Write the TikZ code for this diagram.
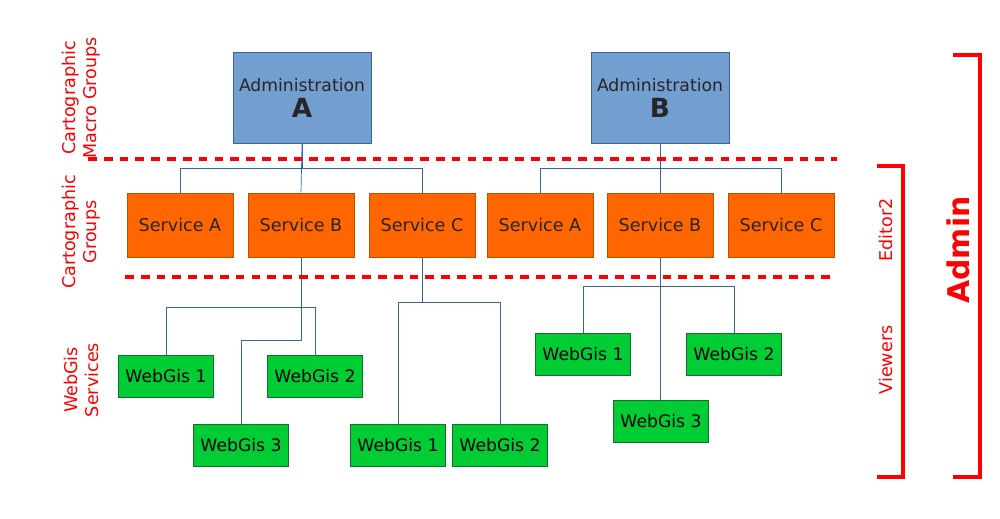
\documentclass[tikz,border=0pt]{standalone}
\usepackage{fontspec}
\setmainfont{DejaVu Sans}
\usetikzlibrary{positioning}
\definecolor{admfill}{HTML}{729FCF}
\definecolor{admdraw}{HTML}{3465A4}
\definecolor{srvfill}{HTML}{FF6600}
\definecolor{srvdraw}{HTML}{B85000}
\definecolor{wgfill}{HTML}{00CC33}
\definecolor{wgdraw}{HTML}{1A6B2E}
\definecolor{linkc}{HTML}{3465A4}
\tikzset{
    admin/.style={draw=admdraw,fill=admfill,minimum width=2.76cm,minimum height=1.82cm,
        align=center,font=\fontsize{9.8}{13}\selectfont,text=black!85},
    service/.style={draw=srvdraw,fill=srvfill,minimum width=2.12cm,minimum height=1.28cm,
        font=\fontsize{10}{12}\selectfont,text=black!85},
    webgis/.style={draw=wgdraw,fill=wgfill,minimum width=1.9cm,minimum height=0.84cm,
        font=\fontsize{9.8}{12}\selectfont},
    link/.style={draw=linkc,thin},
    level/.style={red,dashed,line width=1.8pt,dash pattern=on 5pt off 4pt},
    side/.style={red,rotate=90,align=center,font=\fontsize{10}{12}\selectfont},
    bracket/.style={red,line width=2.2pt},
}
\begin{document}
\begin{tikzpicture}[x=0.02cm,y=-0.02cm]
    \useasboundingbox (0,0) rectangle (1000,518);

    % macro groups
    \node[admin] (admA) at (302,98) {Administration\\[2pt]{\fontsize{15}{17}\selectfont\bfseries A}};
    \node[admin] (admB) at (660,98) {Administration\\[2pt]{\fontsize{15}{17}\selectfont\bfseries B}};

    % groups
    \node[service] (sAa) at (180,225) {Service A};
    \node[service] (sAb) at (301,225) {Service B};
    \node[service] (sAc) at (422,225) {Service C};
    \node[service] (sBa) at (540,225) {Service A};
    \node[service] (sBb) at (660,225) {Service B};
    \node[service] (sBc) at (781,225) {Service C};

    % webgis services
    \node[webgis] (wg1) at (166,376) {WebGis 1};
    \node[webgis] (wg2) at (315,376) {WebGis 2};
    \node[webgis] (wg3) at (241,445) {WebGis 3};
    \node[webgis] (wgC1) at (398,445) {WebGis 1};
    \node[webgis] (wgC2) at (500,445) {WebGis 2};
    \node[webgis] (wgB1) at (583,354) {WebGis 1};
    \node[webgis] (wgB2) at (734,354) {WebGis 2};
    \node[webgis] (wgB3) at (661,421) {WebGis 3};

    % links
    \draw[link] (admA.south) |- ++(0,25) -| (sAa.north);
    \draw[link] (admA.south) -- (sAb.north);
    \draw[link] (admA.south) |- ++(0,25) -| (sAc.north);
    \draw[link] (admB.south) |- ++(0,25) -| (sBa.north);
    \draw[link] (admB.south) -- (sBb.north);
    \draw[link] (admB.south) |- ++(0,25) -| (sBc.north);

    \draw[link] (sAb.south) |- ++(0,50) -| (wg1.north);
    \draw[link] (sAb.south) |- ++(0,50) -| (wg2.north);
    \draw[link] (sAb.south) |- ++(0,83) -| (wg3.north);
    \draw[link] (sAc.south) |- ++(0,45) -| (wgC1.north);
    \draw[link] (sAc.south) |- ++(0,45) -| (wgC2.north);
    \draw[link] (sBb.south) |- ++(0,29) -| (wgB1.north);
    \draw[link] (sBb.south) |- ++(0,29) -| (wgB2.north);
    \draw[link] (sBb.south) -- (sBb.south |- wgB3.north);

    % levels
    \draw[level] (88,159) -- (837,159);
    \draw[level] (125,277) -- (833,277);
    \node[side] (lmacro) at (81,98) {Cartographic\\Macro Groups};
    \node[side] (lgroup) at (81,232) {Cartographic\\Groups};
    \node[side] (lweb) at (81,380) {WebGis\\Services};

    % roles
    \draw[bracket] (877,166) -- (903,166) -- (903,477) -- (877,477);
    \draw[bracket] (953,55) -- (980,55) -- (980,477) -- (953,477);
    \node[side] (ledit) at (886,230) {Editor2};
    \node[side] (lview) at (886,360) {Viewers};
    \node[side,font=\fontsize{17}{19}\selectfont\bfseries] (ladmin) at (958,250) {Admin};
\end{tikzpicture}
\end{document}
